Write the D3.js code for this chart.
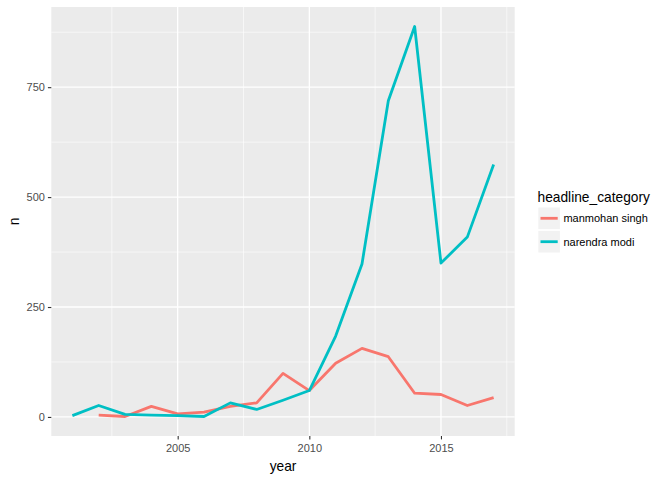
<!DOCTYPE html>
<html>
<head>
<meta charset="utf-8">
<script src="https://cdn.jsdelivr.net/npm/d3@7"></script>
<style>
  html, body { margin: 0; padding: 0; background: #ffffff; }
  svg { display: block; font-family: "Liberation Sans", Arial, Helvetica, sans-serif; }
</style>
</head>
<body>
<svg id="chart" width="672" height="480"></svg>
<script>
// ---- data ----
const seriesNames = ["manmohan singh", "narendra modi"];
const seriesColors = ["#F8766D", "#00BFC4"];
const manmohanYears = [2002, 2003, 2004, 2005, 2006, 2007, 2008, 2009, 2010, 2011, 2012, 2013, 2014, 2015, 2016, 2017];
const manmohanValues = [4, 1, 24, 7, 11, 24, 32, 99, 60, 122, 156, 137, 54, 51, 26, 44];
const modiYears = [2001, 2002, 2003, 2004, 2005, 2006, 2007, 2008, 2009, 2010, 2011, 2012, 2013, 2014, 2015, 2016, 2017];
const modiValues = [3, 26, 6, 4, 3, 1, 32, 17, 38, 60, 184, 348, 719, 888, 350, 409, 574];
const xTicks = [2005, 2010, 2015];
const xMinorTicks = [2002.5, 2007.5, 2012.5, 2017.5];
const yTicks = [0, 250, 500, 750];
const yMinorTicks = [125, 375, 625, 875];
const xTitle = "year";
const yTitle = "n";
const legendTitle = "headline_category";

const series = [
  { name: seriesNames[0], color: seriesColors[0], pts: manmohanYears.map((y, i) => ({ x: y, v: manmohanValues[i] })) },
  { name: seriesNames[1], color: seriesColors[1], pts: modiYears.map((y, i) => ({ x: y, v: modiValues[i] })) }
];

// ---- layout ----
const panel = { left: 51.3, right: 514.7, top: 7, bottom: 436 };
const svg = d3.select("#chart");

const allX = series.flatMap(s => s.pts.map(p => p.x));
const allV = series.flatMap(s => s.pts.map(p => p.v));
const [xmin, xmax] = d3.extent(allX);
const [vmin, vmax] = d3.extent(allV);
const xe = (xmax - xmin) * 0.05, ve = (vmax - vmin) * 0.05;

const x = d3.scaleLinear().domain([xmin - xe, xmax + xe]).range([panel.left, panel.right]);
const y = d3.scaleLinear().domain([vmin - ve, vmax + ve]).range([panel.bottom, panel.top]);

// panel background
svg.append("rect")
  .attr("x", panel.left).attr("y", panel.top)
  .attr("width", panel.right - panel.left).attr("height", panel.bottom - panel.top)
  .attr("fill", "#EBEBEB");

const grid = svg.append("g");
// minor grid
grid.selectAll(".ymin").data(yMinorTicks).enter().append("line")
  .attr("x1", panel.left).attr("x2", panel.right)
  .attr("y1", d => y(d)).attr("y2", d => y(d))
  .attr("stroke", "#ffffff").attr("stroke-width", 0.6);
grid.selectAll(".xmin").data(xMinorTicks).enter().append("line")
  .attr("y1", panel.top).attr("y2", panel.bottom)
  .attr("x1", d => x(d)).attr("x2", d => x(d))
  .attr("stroke", "#ffffff").attr("stroke-width", 0.6);
// major grid
grid.selectAll(".ymaj").data(yTicks).enter().append("line")
  .attr("x1", panel.left).attr("x2", panel.right)
  .attr("y1", d => y(d)).attr("y2", d => y(d))
  .attr("stroke", "#ffffff").attr("stroke-width", 1.3);
grid.selectAll(".xmaj").data(xTicks).enter().append("line")
  .attr("y1", panel.top).attr("y2", panel.bottom)
  .attr("x1", d => x(d)).attr("x2", d => x(d))
  .attr("stroke", "#ffffff").attr("stroke-width", 1.3);

// lines
const line = d3.line().x(d => x(d.x)).y(d => y(d.v));
svg.append("g").selectAll("path").data(series).enter().append("path")
  .attr("d", d => line(d.pts))
  .attr("fill", "none")
  .attr("stroke", d => d.color)
  .attr("stroke-width", 2.8)
  .attr("stroke-linejoin", "round")
  .attr("stroke-linecap", "butt");

// axes
const xAxis = d3.axisBottom(x).tickValues(xTicks).tickFormat(d3.format("d")).tickSize(3.4).tickPadding(4.5);
const gx = svg.append("g").attr("transform", `translate(0,${panel.bottom})`).call(xAxis);
gx.select(".domain").remove();
gx.selectAll(".tick line").attr("stroke", "#333333").attr("stroke-width", 1.1);
gx.selectAll(".tick text").attr("fill", "#4D4D4D").style("font-size", "11px")
  .style("font-family", "Liberation Sans, Arial, sans-serif");

const yAxis = d3.axisLeft(y).tickValues(yTicks).tickFormat(d3.format("d")).tickSize(3.4).tickPadding(3);
const gy = svg.append("g").attr("transform", `translate(${panel.left},0)`).call(yAxis);
gy.select(".domain").remove();
gy.selectAll(".tick line").attr("stroke", "#333333").attr("stroke-width", 1.1);
gy.selectAll(".tick text").attr("fill", "#4D4D4D").style("font-size", "11px")
  .style("font-family", "Liberation Sans, Arial, sans-serif");

// axis titles
svg.append("text")
  .attr("x", (panel.left + panel.right) / 2).attr("y", 470.5)
  .attr("text-anchor", "middle").attr("fill", "#000000")
  .style("font-size", "13.75px").text(xTitle);
svg.append("text")
  .attr("transform", `translate(18.5,${(panel.top + panel.bottom) / 2}) rotate(-90)`)
  .attr("text-anchor", "middle").attr("fill", "#000000")
  .style("font-size", "13.75px").text(yTitle);

// legend
const lg = svg.append("g");
lg.append("text").attr("x", 537.5).attr("y", 201.5)
  .attr("fill", "#000000").style("font-size", "13.75px").text(legendTitle);
const keyTop = 207.5, keyH = 21.6, keyGap = 1.8, keyX = 538.3;
const items = lg.selectAll(".item").data(series).enter().append("g")
  .attr("transform", (d, i) => `translate(${keyX},${keyTop + i * (keyH + keyGap)})`);
items.append("rect").attr("width", keyH).attr("height", keyH).attr("fill", "#F2F2F2");
items.append("line").attr("x1", 2.2).attr("x2", keyH - 2.2)
  .attr("y1", keyH / 2).attr("y2", keyH / 2)
  .attr("stroke", d => d.color).attr("stroke-width", 2.8);
items.append("text").attr("x", keyH + 3.5).attr("y", keyH / 2).attr("dy", "0.35em")
  .attr("fill", "#000000").style("font-size", "11px").text(d => d.name);
</script>
</body>
</html>
